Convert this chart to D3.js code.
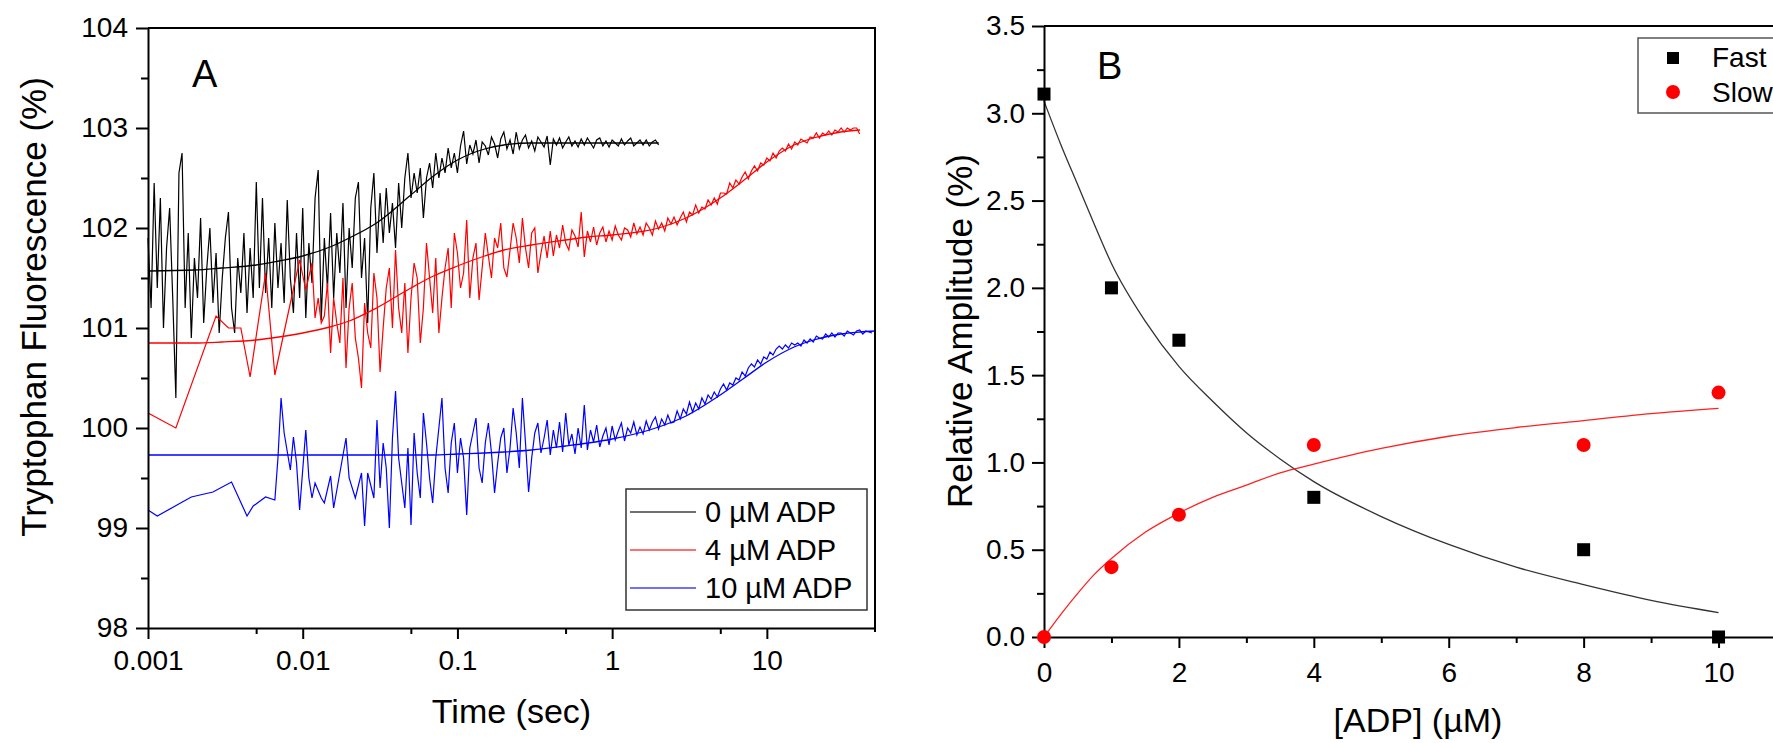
<!DOCTYPE html>
<html>
<head>
<meta charset="utf-8">
<script src="https://cdn.jsdelivr.net/npm/d3@7"></script>
<style>
  body { margin: 0; background: #fff; }
  svg { display: block; font-family: "Liberation Sans", Arial, sans-serif; }
  .axis path, .axis line { stroke: #000; stroke-width: 2; }
  .axis text { fill: #000; font-size: 28px; font-family: "Liberation Sans", Arial, sans-serif; }
</style>
</head>
<body>
<svg id="chart" width="1773" height="743"></svg>
<script>
//
// panel A: stopped-flow traces, sampled on a log time grid (sec)
var timeGrid = [
  1e-3, 1.047e-3, 1.096e-3, 1.148e-3, 1.202e-3, 1.259e-3, 1.318e-3, 1.380e-3, 1.445e-3, 1.514e-3,
  1.585e-3, 1.660e-3, 1.738e-3, 1.820e-3, 1.905e-3, 1.995e-3, 2.089e-3, 2.188e-3, 2.291e-3, 2.399e-3,
  2.512e-3, 2.630e-3, 2.754e-3, 2.884e-3, 3.020e-3, 3.162e-3, 3.311e-3, 3.467e-3, 3.631e-3, 3.802e-3,
  3.981e-3, 4.169e-3, 4.365e-3, 4.571e-3, 4.786e-3, 5.012e-3, 5.248e-3, 5.495e-3, 5.754e-3, 6.026e-3,
  6.310e-3, 6.607e-3, 6.918e-3, 7.244e-3, 7.586e-3, 7.943e-3, 8.318e-3, 8.710e-3, 9.120e-3, 9.550e-3,
  1e-2, 1.047e-2, 1.096e-2, 1.148e-2, 1.202e-2, 1.259e-2, 1.318e-2, 1.380e-2, 1.445e-2, 1.514e-2,
  1.585e-2, 1.660e-2, 1.738e-2, 1.820e-2, 1.905e-2, 1.995e-2, 2.089e-2, 2.188e-2, 2.291e-2, 2.399e-2,
  2.512e-2, 2.630e-2, 2.754e-2, 2.884e-2, 3.020e-2, 3.162e-2, 3.311e-2, 3.467e-2, 3.631e-2, 3.802e-2,
  3.981e-2, 4.169e-2, 4.365e-2, 4.571e-2, 4.786e-2, 5.012e-2, 5.248e-2, 5.495e-2, 5.754e-2, 6.026e-2,
  6.310e-2, 6.607e-2, 6.918e-2, 7.244e-2, 7.586e-2, 7.943e-2, 8.318e-2, 8.710e-2, 9.120e-2, 9.550e-2,
  1e-1, 1.047e-1, 1.096e-1, 1.148e-1, 1.202e-1, 1.259e-1, 1.318e-1, 1.380e-1, 1.445e-1, 1.514e-1,
  1.585e-1, 1.660e-1, 1.738e-1, 1.820e-1, 1.905e-1, 1.995e-1, 2.089e-1, 2.188e-1, 2.291e-1, 2.399e-1,
  2.512e-1, 2.630e-1, 2.754e-1, 2.884e-1, 3.020e-1, 3.162e-1, 3.311e-1, 3.467e-1, 3.631e-1, 3.802e-1,
  3.981e-1, 4.169e-1, 4.365e-1, 4.571e-1, 4.786e-1, 5.012e-1, 5.248e-1, 5.495e-1, 5.754e-1, 6.026e-1,
  6.310e-1, 6.607e-1, 6.918e-1, 7.244e-1, 7.586e-1, 7.943e-1, 8.318e-1, 8.710e-1, 9.120e-1, 9.550e-1,
  1, 1.047, 1.096, 1.148, 1.202, 1.259, 1.318, 1.380, 1.445, 1.514,
  1.585, 1.660, 1.738, 1.820, 1.905, 1.995, 2.089, 2.188, 2.291, 2.399,
  2.512, 2.630, 2.754, 2.884, 3.020, 3.162, 3.311, 3.467, 3.631, 3.802,
  3.981, 4.169, 4.365, 4.571, 4.786, 5.012, 5.248, 5.495, 5.754, 6.026,
  6.310, 6.607, 6.918, 7.244, 7.586, 7.943, 8.318, 8.710, 9.120, 9.550,
  10, 10.47, 10.96, 11.48, 12.02, 12.59, 13.18, 13.80, 14.45, 15.14,
  15.85, 16.60, 17.38, 18.20, 19.05, 19.95, 20.89, 21.88, 22.91, 23.99,
  25.12, 26.30, 27.54, 28.84, 30.20, 31.62, 33.11, 34.67, 36.31, 38.02,
  39.81, 41.69, 43.65, 45.71, 47.86
];

// 0 uM ADP (black), ends near 2 s
var trace0 = [
  101.9, 101.2, 102.45, 101.4, 102.3, 101.0, 101.8, 102.2, 101.3, 100.3,
  102.55, 102.75, 101.2, 101.95, 100.9, 101.7, 101.3, 102.1, 101.05, 101.6,
  102.0, 101.25, 101.75, 100.95, 101.5, 101.9, 102.16, 101.2, 100.95, 101.7,
  101.35, 101.95, 101.15, 101.8, 101.3, 102.46, 101.4, 102.3, 101.35, 101.9,
  101.2, 102.05, 101.4, 101.85, 101.25, 102.28, 101.5, 101.15, 101.95, 101.3,
  102.2, 101.1, 101.85, 101.45, 102.3, 102.58, 101.08, 101.9, 101.4, 102.15,
  101.3, 101.95, 101.55, 102.25, 101.2, 102.0, 101.6, 102.3, 102.46, 101.5,
  101.9, 101.05, 102.2, 102.55, 101.75, 102.35, 101.85, 102.4, 101.95, 102.25,
  101.8, 102.45, 102.0, 102.5, 102.75, 102.3, 102.55, 102.35, 102.6, 102.1,
  102.5, 102.65, 102.4, 102.75, 102.5, 102.7, 102.55, 102.8, 102.6, 102.75,
  102.55, 102.82, 102.97, 102.64, 102.83, 102.74, 102.88, 102.65, 102.86, 102.82,
  102.73, 102.91, 102.84, 102.7, 102.89, 102.96, 102.79, 102.88, 102.74, 102.96,
  102.79, 102.88, 102.93, 102.8, 102.87, 102.77, 102.91, 102.86, 102.81, 102.92,
  102.63, 102.89, 102.83, 102.9, 102.8, 102.86, 102.91, 102.82, 102.87, 102.81,
  102.89, 102.83, 102.9, 102.85, 102.8, 102.88, 102.9, 102.82, 102.87, 102.81,
  102.88, 102.85, 102.82, 102.89, 102.83, 102.87, 102.9, 102.82, 102.85, 102.88,
  102.83, 102.88, 102.82, 102.86, 102.88, 102.83
];

// 4 uM ADP (red), sparse at the start, ends near 40 s
var trace4 = [
  100.15, null, null, null, null, null, null, null, null, 100.0,
  null, null, null, null, null, null, null, null, null, null,
  null, null, 101.12, null, null, null, 101.0, null, null, null,
  101.0, null, null, 100.51, null, null, null, null, 101.55, null,
  null, 100.53, null, null, null, null, null, null, null, 101.68,
  null, 101.38, null, 101.65, 101.1, 101.3, 101.05, 101.12, 101.45, 100.75,
  101.3, 101.05, 100.85, 101.5, 100.6, 101.2, 101.45, 100.9, 100.7, 100.4,
  101.25, 100.95, 100.8, 101.55, 101.3, 100.56, 101.0, 101.4, 101.6, 101.0,
  101.78, 101.2, 100.95, 101.45, 100.75, 101.3, 101.65, 101.5, 100.85, 101.2,
  101.85, 101.5, 101.15, 101.7, 100.95, 101.3, 101.6, 101.8, 101.2, 101.95,
  101.75, 101.4, 101.55, 102.08, 101.3, 101.7, 101.85, 101.28, 101.6, 101.95,
  101.72, 101.5, 101.9, 101.8, 102.05, 101.6, 101.51, 101.78, 102.05, 101.9,
  101.65, 102.1, 101.8, 101.6, 101.95, 102.0, 101.55, 101.75, 101.92, 101.7,
  101.97, 101.72, 101.93, 101.8, 102.03, 101.85, 101.78, 101.98, 101.92, 101.81,
  102.16, 101.71, 101.97, 101.86, 102.01, 101.83, 101.95, 102.01, 101.86, 101.97,
  101.88, 102.02, 101.93, 101.88, 102.0, 101.98, 101.91, 102.05, 101.94, 102.01,
  101.93, 102.05, 102.0, 101.93, 102.07, 101.99, 102.05, 101.97, 102.1, 102.04,
  102.11, 102.03, 102.1, 102.16, 102.06, 102.16, 102.13, 102.23, 102.15, 102.21,
  102.19, 102.28, 102.23, 102.3, 102.24, 102.35, 102.35, 102.34, 102.45, 102.4,
  102.48, 102.44, 102.51, 102.56, 102.49, 102.57, 102.62, 102.57, 102.65, 102.63,
  102.7, 102.67, 102.75, 102.7, 102.77, 102.8, 102.77, 102.84, 102.79, 102.86,
  102.83, 102.89, 102.87, 102.85, 102.91, 102.9, 102.95, 102.9, 102.95, 102.93,
  102.97, 102.93, 102.98, 102.96, 103.0, 102.96, 103.0, 102.98, 103.0, 103.0,
  102.94
];

// 10 uM ADP (blue)
var trace10 = [
  99.18, null, null, 99.12, null, null, null, null, null, null,
  null, null, null, null, 99.31, null, null, null, null, null,
  null, 99.36, null, null, null, null, null, 99.46, null, null,
  null, null, 99.12, null, 99.22, null, null, null, 99.31, null,
  null, 99.28, 99.7, 100.3, 99.95, null, 99.58, 99.91, 99.65, 99.18,
  null, 99.98, 99.5, 99.3, 99.45, null, 99.3, 99.25, null, 99.52,
  99.2, null, 99.55, null, 99.9, 99.5, null, 99.3, null, 99.55,
  99.02, 99.55, null, 99.3, 100.08, 99.4, 99.85, 99.6, 99.0, 99.9,
  100.37, 99.7, 99.45, 99.2, 99.8, 99.03, 99.95, 99.55, 99.3, 100.15,
  99.85, 99.5, 99.25, 99.7, 100.0, 100.3, 99.6, 99.35, 99.85, 100.05,
  99.55, 99.9, 99.7, 99.13, 99.8, 99.95, 100.1, 99.6, 99.45, 99.85,
  100.05, 99.75, 99.35, 99.65, 99.9, 100.0, 99.55, 99.8, 100.2, 99.95,
  99.6, 100.3, 99.85, 99.36, 99.7, 99.95, 100.05, 99.75, 99.9, 100.08,
  99.73, 99.98, 99.8, 100.06, 99.76, 100.15, 99.83, 99.94, 99.74, 100.0,
  99.8, 100.23, 99.78, 99.98, 99.86, 100.03, 99.81, 99.92, 100.0, 99.83,
  100.02, 99.88, 99.97, 100.05, 99.87, 100.0, 99.95, 100.06, 99.93, 100.01,
  99.94, 100.07, 99.98, 100.06, 100.11, 99.99, 100.09, 100.03, 100.13, 100.05,
  100.06, 100.17, 100.09, 100.19, 100.14, 100.26, 100.16, 100.25, 100.19, 100.3,
  100.24, 100.33, 100.29, 100.36, 100.31, 100.39, 100.44, 100.38, 100.45, 100.43,
  100.5, 100.48, 100.56, 100.52, 100.6, 100.64, 100.61, 100.68, 100.64, 100.71,
  100.69, 100.76, 100.73, 100.79, 100.82, 100.79, 100.83, 100.8, 100.85, 100.83,
  100.85, 100.82, 100.88, 100.85, 100.89, 100.86, 100.92, 100.9, 100.89, 100.94,
  100.91, 100.95, 100.91, 100.95, 100.95, 100.92, 100.97, 100.95, 100.93, 100.97,
  100.98, 100.94, 100.97, 100.96, 100.95
];

var fitTime = [0.001, 0.002, 0.003, 0.005, 0.007, 0.01, 0.015, 0.02, 0.03, 0.05, 0.07, 0.1, 0.15, 0.2,
               0.3, 0.5, 0.7, 1, 2, 3, 5, 7, 10, 15, 20, 30, 40, 50];
var fit0 = [101.57, 101.58, 101.6, 101.63, 101.67, 101.72, 101.81, 101.9, 102.05, 102.33, 102.52, 102.68,
            102.79, 102.83, 102.85, 102.85, 102.85, 102.85, 102.85];
var fit4 = [100.85, 100.85, 100.86, 100.88, 100.91, 100.95, 101.01, 101.07, 101.2, 101.4, 101.52, 101.62,
            101.72, 101.78, 101.83, 101.88, 101.91, 101.93, 102.0, 102.1, 102.3, 102.47, 102.66, 102.83,
            102.9, 102.96, 102.98];
var fit10 = [99.73, 99.73, 99.73, 99.73, 99.73, 99.73, 99.73, 99.73, 99.73, 99.73, 99.73, 99.74,
             99.75, 99.76, 99.78, 99.82, 99.85, 99.89, 100.01, 100.12, 100.33, 100.49, 100.66, 100.81,
             100.88, 100.94, 100.96, 100.97];

var traceNames = ['0 \u00b5M ADP', '4 \u00b5M ADP', '10 \u00b5M ADP'];
var traceColors = ['#000000', '#ff0000', '#0000ff'];
var timeTicks = [0.001, 0.01, 0.1, 1, 10];
var timeTickLabels = ['0.001', '0.01', '0.1', '1', '10'];
var timeMinor = [0.005, 0.05, 0.5, 5];
var fluorTicks = [98, 99, 100, 101, 102, 103, 104];
var fluorMinor = [98.5, 99.5, 100.5, 101.5, 102.5, 103.5];

//
// panel B: amplitudes vs [ADP]
var adp = [0, 1, 2, 4, 8, 10];
var fastAmp = [3.11, 2.0, 1.7, 0.8, 0.5, 0.0];
var slowAmp = [0.0, 0.4, 0.7, 1.1, 1.1, 1.4];
var fitAdp = [0, 0.25, 0.5, 0.75, 1, 1.5, 2, 2.5, 3, 3.5, 4, 5, 6, 7, 8, 9, 10];
var fastFit = [3.07, 2.82, 2.59, 2.36, 2.14, 1.81, 1.55, 1.35, 1.17, 1.02, 0.89, 0.69, 0.53, 0.4, 0.3, 0.21, 0.14];
var slowFit = [0, 0.13, 0.25, 0.36, 0.45, 0.6, 0.71, 0.8, 0.87, 0.94, 0.99, 1.08, 1.15, 1.2, 1.24, 1.28, 1.31];
var adpTicks = [0, 2, 4, 6, 8, 10];
var adpMinor = [1, 3, 5, 7, 9, 11];
var ampTicks = [0, 0.5, 1, 1.5, 2, 2.5, 3, 3.5];
var ampMinor = [0.25, 0.75, 1.25, 1.75, 2.25, 2.75, 3.25];

var svg = d3.select('#chart');

var xA = d3.scaleLog().domain([0.001, 50]).range([148, 875]),
    yA = d3.scaleLinear().domain([98, 104]).range([628, 28]),
    xB = d3.scaleLinear().domain([0, 11]).range([1044, 1786]),
    yB = d3.scaleLinear().domain([0, 3.5]).range([637, 26]);

//
// axis helpers
function bottomAxis(x, y0, major, labels, minor, pad) {
  var g = svg.append('g').attr('class', 'axis').attr('transform', 'translate(0,' + y0 + ')');
  g.call(d3.axisBottom(x).tickValues(major).tickFormat((d, i) => labels[i])
    .tickSize(11).tickPadding(pad).tickSizeOuter(0));
  var m = svg.append('g').attr('class', 'axis').attr('transform', 'translate(0,' + y0 + ')');
  m.call(d3.axisBottom(x).tickValues(minor).tickFormat('').tickSize(6).tickSizeOuter(0));
  m.select('.domain').remove();
}
function leftAxis(y, x0, major, fmt, minor, pad) {
  var g = svg.append('g').attr('class', 'axis').attr('transform', 'translate(' + x0 + ',0)');
  g.call(d3.axisLeft(y).tickValues(major).tickFormat(fmt).tickSize(12).tickPadding(pad).tickSizeOuter(0));
  var m = svg.append('g').attr('class', 'axis').attr('transform', 'translate(' + x0 + ',0)');
  m.call(d3.axisLeft(y).tickValues(minor).tickFormat('').tickSize(7).tickSizeOuter(0));
  m.select('.domain').remove();
}

//
// panel A
var lineA = d3.line().x(d => xA(d[0])).y(d => yA(d[1])),
    smoothA = d3.line().x(d => xA(d[0])).y(d => yA(d[1])).curve(d3.curveMonotoneX);
var pick = (vals, times) => times.map((t, i) => [t, vals[i]]).filter(d => d[1] != null);

[trace0, trace4, trace10].forEach(function(vals, k) {
  svg.append('path')
    .attr('d', lineA(pick(vals, timeGrid)))
    .attr('fill', 'none').attr('stroke', traceColors[k]).attr('stroke-width', 1.2);
});
[fit0, fit4, fit10].forEach(function(vals, k) {
  svg.append('path')
    .attr('d', smoothA(pick(vals, fitTime)))
    .attr('fill', 'none').attr('stroke', traceColors[k]).attr('stroke-width', 1.3);
});

// frame
svg.append('path').attr('d', 'M' + xA.range()[0] + ',' + yA.range()[1] + 'H' + xA.range()[1] + 'V' + (yA.range()[0] + 4))
  .attr('fill', 'none').attr('stroke', '#000').attr('stroke-width', 2);
bottomAxis(xA, yA.range()[0], timeTicks, timeTickLabels, timeMinor, 11);
leftAxis(yA, xA.range()[0], fluorTicks, d3.format('d'), fluorMinor, 8);

// legend A
var legA = svg.append('g').attr('transform', 'translate(626,489)');
legA.append('rect').attr('width', 241).attr('height', 121)
  .attr('fill', '#fff').attr('stroke', '#333').attr('stroke-width', 1.5);
traceNames.forEach(function(name, k) {
  var yy = 23 + k * 38;
  legA.append('line').attr('x1', 4).attr('x2', 70).attr('y1', yy).attr('y2', yy)
    .attr('stroke', traceColors[k]).attr('stroke-width', 1.6).attr('stroke-opacity', 0.75);
  legA.append('text').attr('x', 79).attr('y', yy + 10).attr('font-size', 29).text(name);
});

svg.append('text').attr('x', 192).attr('y', 87).attr('font-size', 38).text('A');
svg.append('text').attr('x', (xA.range()[0] + xA.range()[1]) / 2).attr('y', 723)
  .attr('text-anchor', 'middle').attr('font-size', 34).text('Time (sec)');
svg.append('text').attr('transform', 'translate(46,307) rotate(-90)')
  .attr('text-anchor', 'middle').attr('font-size', 35).text('Tryptophan Fluorescence (%)');

//
// panel B
var lineB = d3.line().x(d => xB(d[0])).y(d => yB(d[1])).curve(d3.curveMonotoneX);
svg.append('path').attr('d', lineB(pick(fastFit, fitAdp)))
  .attr('fill', 'none').attr('stroke', '#333').attr('stroke-width', 1.3);
svg.append('path').attr('d', lineB(pick(slowFit, fitAdp)))
  .attr('fill', 'none').attr('stroke', '#ff2020').attr('stroke-width', 1.3);

svg.append('line').attr('x1', xB.range()[0]).attr('x2', xB.range()[1])
  .attr('y1', yB.range()[1]).attr('y2', yB.range()[1]).attr('stroke', '#000').attr('stroke-width', 2);
bottomAxis(xB, yB.range()[0], adpTicks, adpTicks.map(String), adpMinor, 14);
leftAxis(yB, xB.range()[0], ampTicks, d3.format('.1f'), ampMinor, 7);

svg.selectAll('rect.fast').data(adp).enter().append('rect').attr('class', 'fast')
  .attr('x', (d) => xB(d) - 6.5).attr('y', (d, i) => yB(fastAmp[i]) - 6.5)
  .attr('width', 13).attr('height', 13).attr('fill', '#000');
svg.selectAll('circle.slow').data(adp).enter().append('circle').attr('class', 'slow')
  .attr('cx', (d) => xB(d)).attr('cy', (d, i) => yB(slowAmp[i])).attr('r', 7).attr('fill', '#ff0000');

// legend B (runs off the right edge, as in the figure)
var legB = svg.append('g').attr('transform', 'translate(1638,38)');
legB.append('rect').attr('width', 200).attr('height', 75)
  .attr('fill', '#fff').attr('stroke', '#555').attr('stroke-width', 1.5);
legB.append('rect').attr('x', 29).attr('y', 14).attr('width', 12).attr('height', 12).attr('fill', '#000');
legB.append('circle').attr('cx', 35).attr('cy', 54).attr('r', 7).attr('fill', '#ff0000');
legB.append('text').attr('x', 74).attr('y', 29).attr('font-size', 28).text('Fast');
legB.append('text').attr('x', 74).attr('y', 64).attr('font-size', 28).text('Slow');

svg.append('text').attr('x', 1097).attr('y', 79).attr('font-size', 38).text('B');
svg.append('text').attr('x', 1418).attr('y', 732)
  .attr('text-anchor', 'middle').attr('font-size', 34).text('[ADP] (\u00b5M)');
svg.append('text').attr('transform', 'translate(972,331) rotate(-90)')
  .attr('text-anchor', 'middle').attr('font-size', 35).text('Relative Amplitude (%)');
</script>
</body>
</html>
